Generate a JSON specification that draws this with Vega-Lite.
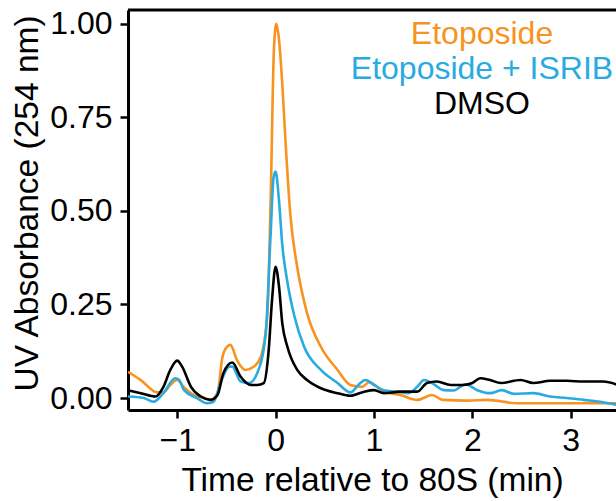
{
  "$schema": "https://vega.github.io/schema/vega-lite/v6.json",
  "autosize": "none",
  "width": 488,
  "height": 400,
  "padding": {"left": 128, "top": 10, "right": 0, "bottom": 91},
  "background": "white",
  "config": {
    "view": {"stroke": null},
    "font": "Liberation Sans",
    "axis": {
      "domainColor": "black", "domainWidth": 3, "tickColor": "black", "tickWidth": 2.5, "tickSize": 8,
      "labelColor": "black", "labelFontSize": 32, "labelFont": "Liberation Sans",
      "titleColor": "black", "titleFontSize": 33.5, "titleFont": "Liberation Sans", "titleFontWeight": "normal",
      "grid": false
    }
  },
  "datasets": {
    "profiles": [
      {"t": -1.5, "v": 0.070, "s": "Etoposide"},
      {"t": -1.37, "v": 0.048, "s": "Etoposide"},
      {"t": -1.2, "v": 0.015, "s": "Etoposide"},
      {"t": -1.14, "v": 0.015, "s": "Etoposide"},
      {"t": -1.07, "v": 0.035, "s": "Etoposide"},
      {"t": -1.0, "v": 0.048, "s": "Etoposide"},
      {"t": -0.93, "v": 0.028, "s": "Etoposide"},
      {"t": -0.83, "v": 0.008, "s": "Etoposide"},
      {"t": -0.72, "v": 0.0, "s": "Etoposide"},
      {"t": -0.66, "v": -0.005, "s": "Etoposide"},
      {"t": -0.59, "v": 0.013, "s": "Etoposide"},
      {"t": -0.54, "v": 0.11, "s": "Etoposide"},
      {"t": -0.49, "v": 0.138, "s": "Etoposide"},
      {"t": -0.46, "v": 0.142, "s": "Etoposide"},
      {"t": -0.39, "v": 0.10, "s": "Etoposide"},
      {"t": -0.305, "v": 0.075, "s": "Etoposide"},
      {"t": -0.22, "v": 0.084, "s": "Etoposide"},
      {"t": -0.15, "v": 0.11, "s": "Etoposide"},
      {"t": -0.085, "v": 0.22, "s": "Etoposide"},
      {"t": -0.05, "v": 0.53, "s": "Etoposide"},
      {"t": -0.017, "v": 0.93, "s": "Etoposide"},
      {"t": 0.007, "v": 1.0, "s": "Etoposide"},
      {"t": 0.034, "v": 0.96, "s": "Etoposide"},
      {"t": 0.068, "v": 0.84, "s": "Etoposide"},
      {"t": 0.1, "v": 0.69, "s": "Etoposide"},
      {"t": 0.15, "v": 0.49, "s": "Etoposide"},
      {"t": 0.22, "v": 0.35, "s": "Etoposide"},
      {"t": 0.32, "v": 0.227, "s": "Etoposide"},
      {"t": 0.46, "v": 0.137, "s": "Etoposide"},
      {"t": 0.63, "v": 0.075, "s": "Etoposide"},
      {"t": 0.76, "v": 0.035, "s": "Etoposide"},
      {"t": 0.88, "v": 0.03, "s": "Etoposide"},
      {"t": 0.95, "v": 0.042, "s": "Etoposide"},
      {"t": 1.1, "v": 0.017, "s": "Etoposide"},
      {"t": 1.27, "v": 0.008, "s": "Etoposide"},
      {"t": 1.44, "v": -0.005, "s": "Etoposide"},
      {"t": 1.59, "v": 0.008, "s": "Etoposide"},
      {"t": 1.7, "v": -0.005, "s": "Etoposide"},
      {"t": 1.95, "v": -0.007, "s": "Etoposide"},
      {"t": 2.15, "v": -0.005, "s": "Etoposide"},
      {"t": 2.46, "v": -0.014, "s": "Etoposide"},
      {"t": 2.8, "v": -0.014, "s": "Etoposide"},
      {"t": 3.13, "v": -0.014, "s": "Etoposide"},
      {"t": 3.5, "v": -0.014, "s": "Etoposide"},

      {"t": -1.5, "v": 0.004, "s": "Etoposide + ISRIB"},
      {"t": -1.34, "v": 0.0, "s": "Etoposide + ISRIB"},
      {"t": -1.24, "v": -0.01, "s": "Etoposide + ISRIB"},
      {"t": -1.14, "v": 0.013, "s": "Etoposide + ISRIB"},
      {"t": -1.02, "v": 0.053, "s": "Etoposide + ISRIB"},
      {"t": -0.98, "v": 0.048, "s": "Etoposide + ISRIB"},
      {"t": -0.93, "v": 0.021, "s": "Etoposide + ISRIB"},
      {"t": -0.8, "v": 0.0, "s": "Etoposide + ISRIB"},
      {"t": -0.7, "v": -0.014, "s": "Etoposide + ISRIB"},
      {"t": -0.63, "v": -0.01, "s": "Etoposide + ISRIB"},
      {"t": -0.56, "v": 0.04, "s": "Etoposide + ISRIB"},
      {"t": -0.47, "v": 0.084, "s": "Etoposide + ISRIB"},
      {"t": -0.44, "v": 0.084, "s": "Etoposide + ISRIB"},
      {"t": -0.355, "v": 0.044, "s": "Etoposide + ISRIB"},
      {"t": -0.27, "v": 0.04, "s": "Etoposide + ISRIB"},
      {"t": -0.186, "v": 0.067, "s": "Etoposide + ISRIB"},
      {"t": -0.1, "v": 0.173, "s": "Etoposide + ISRIB"},
      {"t": -0.05, "v": 0.44, "s": "Etoposide + ISRIB"},
      {"t": -0.02, "v": 0.59, "s": "Etoposide + ISRIB"},
      {"t": 0.0, "v": 0.605, "s": "Etoposide + ISRIB"},
      {"t": 0.034, "v": 0.53, "s": "Etoposide + ISRIB"},
      {"t": 0.068, "v": 0.41, "s": "Etoposide + ISRIB"},
      {"t": 0.12, "v": 0.31, "s": "Etoposide + ISRIB"},
      {"t": 0.19, "v": 0.22, "s": "Etoposide + ISRIB"},
      {"t": 0.29, "v": 0.137, "s": "Etoposide + ISRIB"},
      {"t": 0.46, "v": 0.075, "s": "Etoposide + ISRIB"},
      {"t": 0.63, "v": 0.04, "s": "Etoposide + ISRIB"},
      {"t": 0.76, "v": 0.015, "s": "Etoposide + ISRIB"},
      {"t": 0.86, "v": 0.04, "s": "Etoposide + ISRIB"},
      {"t": 0.915, "v": 0.048, "s": "Etoposide + ISRIB"},
      {"t": 1.0, "v": 0.035, "s": "Etoposide + ISRIB"},
      {"t": 1.1, "v": 0.021, "s": "Etoposide + ISRIB"},
      {"t": 1.23, "v": 0.017, "s": "Etoposide + ISRIB"},
      {"t": 1.35, "v": 0.013, "s": "Etoposide + ISRIB"},
      {"t": 1.44, "v": 0.03, "s": "Etoposide + ISRIB"},
      {"t": 1.51, "v": 0.048, "s": "Etoposide + ISRIB"},
      {"t": 1.59, "v": 0.04, "s": "Etoposide + ISRIB"},
      {"t": 1.71, "v": 0.021, "s": "Etoposide + ISRIB"},
      {"t": 1.81, "v": 0.02, "s": "Etoposide + ISRIB"},
      {"t": 1.93, "v": 0.037, "s": "Etoposide + ISRIB"},
      {"t": 2.05, "v": 0.021, "s": "Etoposide + ISRIB"},
      {"t": 2.18, "v": 0.013, "s": "Etoposide + ISRIB"},
      {"t": 2.3, "v": 0.021, "s": "Etoposide + ISRIB"},
      {"t": 2.42, "v": 0.011, "s": "Etoposide + ISRIB"},
      {"t": 2.62, "v": 0.013, "s": "Etoposide + ISRIB"},
      {"t": 2.79, "v": 0.004, "s": "Etoposide + ISRIB"},
      {"t": 2.96, "v": 0.0, "s": "Etoposide + ISRIB"},
      {"t": 3.13, "v": -0.005, "s": "Etoposide + ISRIB"},
      {"t": 3.3, "v": -0.01, "s": "Etoposide + ISRIB"},
      {"t": 3.5, "v": -0.02, "s": "Etoposide + ISRIB"},

      {"t": -1.5, "v": 0.021, "s": "DMSO"},
      {"t": -1.37, "v": 0.013, "s": "DMSO"},
      {"t": -1.22, "v": 0.004, "s": "DMSO"},
      {"t": -1.14, "v": 0.03, "s": "DMSO"},
      {"t": -1.07, "v": 0.075, "s": "DMSO"},
      {"t": -1.0, "v": 0.10, "s": "DMSO"},
      {"t": -0.95, "v": 0.084, "s": "DMSO"},
      {"t": -0.86, "v": 0.03, "s": "DMSO"},
      {"t": -0.76, "v": 0.004, "s": "DMSO"},
      {"t": -0.66, "v": -0.005, "s": "DMSO"},
      {"t": -0.59, "v": 0.008, "s": "DMSO"},
      {"t": -0.53, "v": 0.067, "s": "DMSO"},
      {"t": -0.44, "v": 0.095, "s": "DMSO"},
      {"t": -0.355, "v": 0.057, "s": "DMSO"},
      {"t": -0.25, "v": 0.035, "s": "DMSO"},
      {"t": -0.186, "v": 0.035, "s": "DMSO"},
      {"t": -0.12, "v": 0.04, "s": "DMSO"},
      {"t": -0.07, "v": 0.128, "s": "DMSO"},
      {"t": -0.036, "v": 0.262, "s": "DMSO"},
      {"t": 0.0, "v": 0.351, "s": "DMSO"},
      {"t": 0.034, "v": 0.30, "s": "DMSO"},
      {"t": 0.068, "v": 0.2, "s": "DMSO"},
      {"t": 0.12, "v": 0.137, "s": "DMSO"},
      {"t": 0.22, "v": 0.075, "s": "DMSO"},
      {"t": 0.32, "v": 0.048, "s": "DMSO"},
      {"t": 0.46, "v": 0.026, "s": "DMSO"},
      {"t": 0.63, "v": 0.013, "s": "DMSO"},
      {"t": 0.76, "v": 0.006, "s": "DMSO"},
      {"t": 0.9, "v": 0.017, "s": "DMSO"},
      {"t": 1.0, "v": 0.021, "s": "DMSO"},
      {"t": 1.1, "v": 0.013, "s": "DMSO"},
      {"t": 1.27, "v": 0.017, "s": "DMSO"},
      {"t": 1.44, "v": 0.017, "s": "DMSO"},
      {"t": 1.54, "v": 0.04, "s": "DMSO"},
      {"t": 1.64, "v": 0.044, "s": "DMSO"},
      {"t": 1.78, "v": 0.035, "s": "DMSO"},
      {"t": 1.91, "v": 0.035, "s": "DMSO"},
      {"t": 2.0, "v": 0.04, "s": "DMSO"},
      {"t": 2.08, "v": 0.053, "s": "DMSO"},
      {"t": 2.18, "v": 0.048, "s": "DMSO"},
      {"t": 2.29, "v": 0.04, "s": "DMSO"},
      {"t": 2.49, "v": 0.048, "s": "DMSO"},
      {"t": 2.62, "v": 0.04, "s": "DMSO"},
      {"t": 2.79, "v": 0.046, "s": "DMSO"},
      {"t": 2.96, "v": 0.046, "s": "DMSO"},
      {"t": 3.13, "v": 0.044, "s": "DMSO"},
      {"t": 3.33, "v": 0.044, "s": "DMSO"},
      {"t": 3.5, "v": 0.033, "s": "DMSO"}
    ]
  },
  "layer": [
    {
      "data": {"name": "profiles"},
      "mark": {"type": "line", "strokeWidth": 2.6, "interpolate": "monotone", "clip": true},
      "encoding": {
        "x": {
          "field": "t", "type": "quantitative",
          "scale": {"domain": [-1.5, 3.46], "nice": false, "zero": false},
          "axis": {"values": [-1, 0, 1, 2, 3], "format": "d", "title": "Time relative to 80S (min)", "labelPadding": 7, "titlePadding": 8}
        },
        "y": {
          "field": "v", "type": "quantitative",
          "scale": {"domain": [-0.032, 1.037], "nice": false, "zero": false},
          "axis": {"values": [0, 0.25, 0.5, 0.75, 1], "format": ".2f", "title": "UV Absorbance (254 nm)", "labelPadding": 8, "titlePadding": 5, "titleY": 193}
        },
        "color": {
          "field": "s", "type": "nominal",
          "scale": {"domain": ["Etoposide", "Etoposide + ISRIB", "DMSO"], "range": ["#F7931E", "#29ABE2", "#000000"]},
          "legend": {
            "orient": "none", "legendX": 322, "legendY": 8, "title": null,
            "symbolSize": 0, "symbolOpacity": 0, "symbolStrokeWidth": 0,
            "labelFontSize": 32, "labelFont": "Liberation Sans", "labelAlign": "center", "labelOffset": 0,
            "rowPadding": 3, "labelLimit": 400,
            "encode": {"labels": {"update": {"fill": {"scale": "color", "field": "value"}}}}
          }
        }
      }
    },
    {
      "data": {"values": [{}]},
      "mark": {"type": "rule", "color": "black", "strokeWidth": 3},
      "encoding": {"y": {"datum": 1.037, "type": "quantitative"}}
    }
  ]
}
